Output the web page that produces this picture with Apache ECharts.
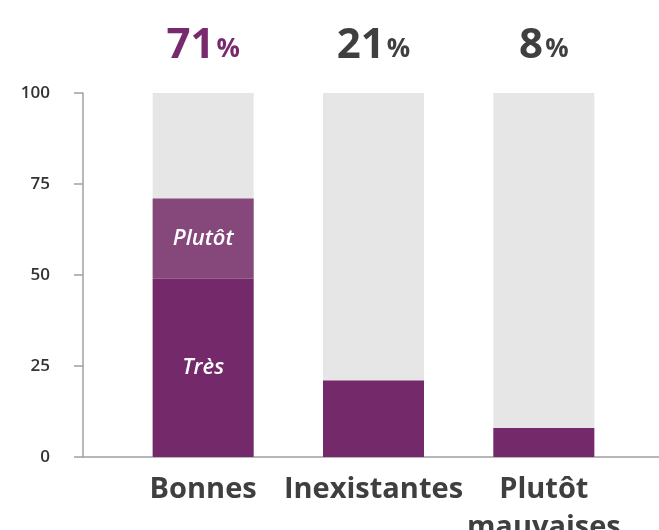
<!DOCTYPE html>
<html>
<head>
<meta charset="utf-8">
<script src="https://cdn.jsdelivr.net/npm/echarts@6/dist/echarts.min.js"></script>
<style>
  html, body { margin: 0; padding: 0; background: #fff; }
  #chart { width: 659px; height: 530px; }
</style>
</head>
<body>
<div id="chart"></div>
<script>
var categories = ['Bonnes', 'Inexistantes', 'Plutôt\nmauvaises'];
var tres = [49, 21, 8];
var plutot = [22, '-', '-'];
var full = [100, 100, 100];
var yTicks = [0, 25, 50, 75, 100];

var totals = tres.map(function (v, i) {
  return v + (plutot[i] === '-' ? 0 : plutot[i]);
});

var chart = echarts.init(document.getElementById('chart'));
var font = '"Open Sans", sans-serif';

chart.setOption({
  animation: false,
  grid: [
    { left: 118, right: 30, top: 93, bottom: 73, outerBoundsMode: 'none' },
    { left: 83, right: 0, top: 93, bottom: 73, outerBoundsMode: 'none' }
  ],
  xAxis: [
    {
      type: 'category',
      data: categories,
      gridIndex: 0,
      axisLine: { show: false },
      axisTick: { show: false },
      axisLabel: {
        interval: 0,
        margin: 14,
        fontFamily: font,
        fontSize: 29,
        fontWeight: 'bold',
        lineHeight: 38,
        color: '#3f3f3f'
      }
    },
    {
      type: 'value',
      gridIndex: 1,
      axisLine: { show: true, lineStyle: { color: '#a0a0a0', width: 1.5 } },
      axisTick: { show: false },
      axisLabel: { show: false },
      splitLine: { show: false }
    }
  ],
  yAxis: [
    {
      type: 'value',
      gridIndex: 0,
      min: yTicks[0],
      max: yTicks[yTicks.length - 1],
      interval: 25,
      offset: 35,
      axisLine: { show: true, lineStyle: { color: '#a0a0a0', width: 1.5 } },
      axisTick: { show: true, length: 9, lineStyle: { color: '#a0a0a0', width: 1.5 } },
      splitLine: { show: false },
      axisLabel: {
        margin: 33,
        fontFamily: font,
        fontSize: 17,
        fontWeight: 600,
        color: '#333'
      }
    },
    { type: 'value', gridIndex: 1, show: false }
  ],
  series: [
    {
      type: 'bar',
      data: full,
      barWidth: 101,
      barGap: '-100%',
      z: 1,
      itemStyle: { color: '#e6e6e6' },
      silent: true,
      label: {
        show: true,
        position: 'top',
        distance: 26,
        formatter: function (p) {
          var s = p.dataIndex === 0 ? 'a' : 'b';
          return '{' + s + '|' + totals[p.dataIndex] + '}{' + s + 'p|%}';
        },
        rich: {
          a: { fontFamily: font, fontSize: 42, fontWeight: 'bold', color: '#772a6e' },
          ap: { fontFamily: font, fontSize: 26, fontWeight: 'bold', color: '#772a6e', padding: [8, 0, 0, 2] },
          b: { fontFamily: font, fontSize: 42, fontWeight: 'bold', color: '#3f3f3f' },
          bp: { fontFamily: font, fontSize: 26, fontWeight: 'bold', color: '#3f3f3f', padding: [8, 0, 0, 2] }
        }
      }
    },
    {
      name: 'Très',
      type: 'bar',
      stack: 'v',
      data: tres,
      barWidth: 101,
      z: 2,
      itemStyle: { color: '#74296b' },
      label: {
        show: true,
        position: 'inside',
        fontFamily: font,
        fontSize: 22,
        fontStyle: 'italic',
        fontWeight: 600,
        color: '#fff',
        formatter: function (p) { return p.dataIndex === 0 ? 'Très' : ''; }
      }
    },
    {
      name: 'Plutôt',
      type: 'bar',
      stack: 'v',
      data: plutot,
      barWidth: 101,
      z: 2,
      itemStyle: { color: '#86487b' },
      label: {
        show: true,
        position: 'inside',
        fontFamily: font,
        fontSize: 22,
        fontStyle: 'italic',
        fontWeight: 600,
        color: '#fff',
        formatter: 'Plutôt'
      }
    }
  ]
});
</script>
</body>
</html>
